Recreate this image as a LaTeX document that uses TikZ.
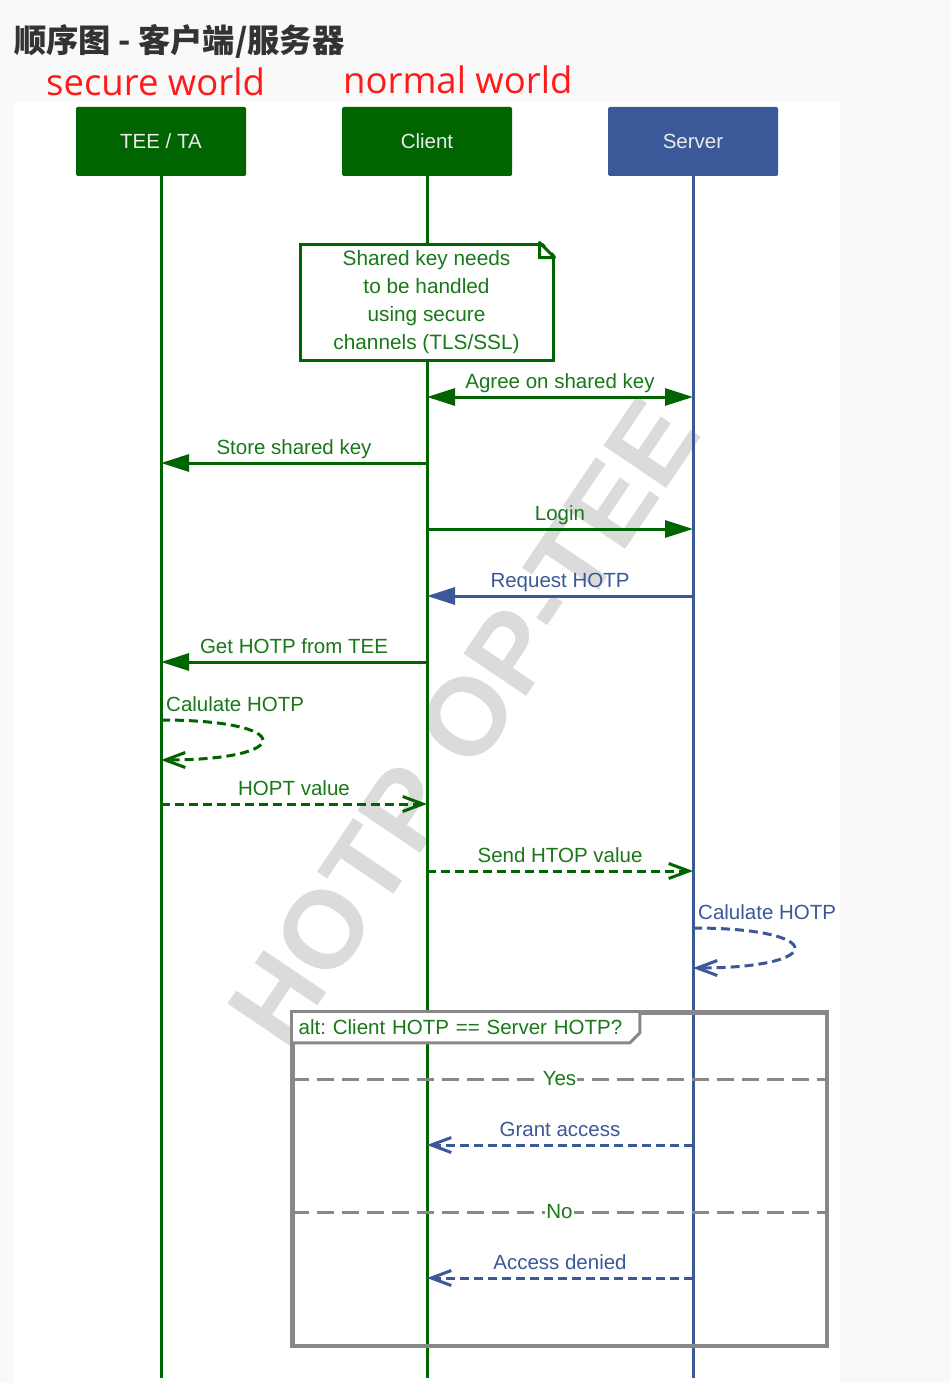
\documentclass[tikz,border=0pt]{standalone}
\usepackage{fontspec}
\setmainfont{Liberation Sans}
\newfontfamily\cjkfont{Noto Sans CJK SC}
\newfontfamily\worldfont{Open Sans}
\usetikzlibrary{arrows.meta,positioning}

\definecolor{teegreen}{RGB}{0,100,0}
\definecolor{labelgreen}{RGB}{25,120,25}
\definecolor{srvblue}{RGB}{59,89,152}
\definecolor{framegray}{RGB}{136,136,136}
\definecolor{titlegray}{RGB}{51,51,51}
\definecolor{worldred}{RGB}{255,25,25}
\definecolor{pagegray}{RGB}{249,249,249}

\begin{document}
\begin{tikzpicture}[x=1pt,y=-1pt,
        head/.style = {fill=#1, text=white!92!black, minimum width=170pt, minimum height=69pt, inner sep=0pt, rounded corners=1.5pt, font=\fontsize{20.5}{24}\selectfont},
        life/.style = {line width=3pt},
        msg/.style = {line width=3pt, -{Triangle[length=28pt,width=17pt]}},
        reply/.style = {line width=3pt, dash pattern=on 9pt off 5pt, -{Straight Barb[length=20pt,width=15pt,line width=3pt]}},
        lbl/.style = {above, inner sep=3pt, text height=15pt, text depth=4.3pt, text=#1, font=\fontsize{20.5}{24}\selectfont},
        lbl/.default = labelgreen,
        selflbl/.style = {anchor=south west, inner sep=3pt, text=#1, font=\fontsize{20.5}{24}\selectfont},
        notebox/.style = {draw=teegreen, fill=white, line width=3pt, align=center, text=labelgreen, minimum width=253pt, minimum height=116pt, inner sep=0pt, font=\fontsize{20.8}{28}\selectfont},
        altbox/.style = {draw=framegray, line width=3pt, minimum width=533pt, minimum height=332pt, inner sep=0pt},
        alttab/.style = {fill=white, anchor=north west, text=labelgreen, text width=334pt, inner xsep=7pt, inner ysep=0pt, minimum height=31pt, align=left, font=\frenchspacing\fontsize{20.5}{24}\selectfont},
        sep/.style = {draw=framegray, line width=3pt, dash pattern=on 17pt off 8pt},
        seplbl/.style = {fill=white, inner sep=1pt, text=labelgreen, font=\fontsize{20.5}{24}\selectfont},
        world/.style = {anchor=base west, inner sep=0pt, text=worldred, font=\worldfont\fontsize{36.5}{40}\selectfont},
        watermark/.style = {rotate=56, text=black!14, font=\bfseries\fontsize{110}{112}\selectfont}]
    % page and diagram area
    \fill[pagegray] (0,0) rectangle (951,1383);
    \fill[white] (14,102) rectangle (840,1383);
    \useasboundingbox (0,0) rectangle (951,1383);

    % headings
    \node[anchor=base west, inner sep=0pt, text=titlegray, font=\cjkfont\bfseries\fontsize{32.3}{36}\selectfont] (title) at (14,53) {顺序图 - 客户端/服务器};
    \node[world] (secure) at (46,96) {secure world};
    \node[world] (normal) at (343,94) {normal world};

    \node[watermark] (mark) at (464,722) {HOTP OP-TEE};

    % lifelines
    \node[head=teegreen] (tee) at (161,141.5) {TEE / TA};
    \node[head=teegreen] (cli) at (427,141.5) {Client};
    \node[head=srvblue] (srv) at (693,141.5) {Server};
    \coordinate (tee-end) at (161,1378);
    \coordinate (cli-end) at (427,1378);
    \coordinate (srv-end) at (693,1378);
    \draw[life, teegreen] (tee) -- (tee-end);
    \draw[life, teegreen] (cli) -- (cli-end);
    \draw[life, srvblue] (srv) -- (srv-end);

    \foreach \row/\y in {agree/397,store/463,login/529,request/596,get/662,calc/720,calcb/760,hopt/804,send/871,check/928,checkb/968,yes/1079,grant/1145,no/1212,denied/1278}{
        \coordinate (tee-\row) at (161,\y);
        \coordinate (cli-\row) at (427,\y);
        \coordinate (srv-\row) at (693,\y);
    }

    % note
    \node[notebox] (note) at (426.5,302) {Shared key needs\\to be handled\\using secure\\channels (TLS/SSL)};
    \fill[white] ([xshift=-14pt,yshift=2pt]note.north east) -- ([xshift=2pt,yshift=2pt]note.north east) -- ([xshift=2pt,yshift=-14pt]note.north east) -- cycle;
    \draw[teegreen, line width=3pt, line join=round] ([xshift=-15pt]note.north east) -- ([yshift=-15pt]note.north east) -| cycle;
    \draw[teegreen, line width=3pt] ([xshift=-15pt]note.north east) |- ([yshift=-15pt]note.north east);

    % messages
    \draw[msg, {Triangle[length=28pt,width=17pt]}-{Triangle[length=28pt,width=17pt]}, teegreen] (cli-agree) -- node[lbl] {Agree on shared key} (srv-agree);
    \draw[msg, teegreen] (cli-store) -- node[lbl] {Store shared key} (tee-store);
    \draw[msg, teegreen] (cli-login) -- node[lbl] {Login} (srv-login);
    \draw[msg, srvblue] (srv-request) -- node[lbl=srvblue] {Request HOTP} (cli-request);
    \draw[msg, teegreen] (cli-get) -- node[lbl] {Get HOTP from TEE} (tee-get);

    \node[selflbl=labelgreen] (calclbl) at ([xshift=2pt,yshift=5pt]tee-calc) {Calulate HOTP};
    \draw[reply, teegreen] (tee-calc) .. controls (296,720) and (296,760) .. (tee-calcb);
    \draw[reply, teegreen] (tee-hopt) -- node[lbl] {HOPT value} (cli-hopt);
    \draw[reply, teegreen] (cli-send) -- node[lbl] {Send HTOP value} (srv-send);

    \node[selflbl=srvblue] (checklbl) at ([xshift=2pt,yshift=5pt]srv-check) {Calulate HOTP};
    \draw[reply, srvblue] (srv-check) .. controls (828,928) and (828,968) .. (srv-checkb);

    % alt frame
    \node[altbox] (alt) at (559.5,1179) {};
    \node[alttab] (alttag) at (alt.north west) {alt: Client HOTP == Server HOTP?};
    \draw[framegray, line width=3pt] (alttag.south west) -- ([xshift=-10pt]alttag.south east) -- ([yshift=10pt]alttag.south east) -- (alttag.north east);
    \draw[framegray, line width=3pt] (alt.north west) rectangle (alt.south east);
    \draw[sep] (alt.west |- cli-yes) -- node[seplbl] {Yes} (alt.east |- cli-yes);
    \draw[reply, srvblue] (srv-grant) -- node[lbl=srvblue] {Grant access} (cli-grant);
    \draw[sep] (alt.west |- cli-no) -- node[seplbl] {No} (alt.east |- cli-no);
    \draw[reply, srvblue] (srv-denied) -- node[lbl=srvblue] {Access denied} (cli-denied);
\end{tikzpicture}
\end{document}
